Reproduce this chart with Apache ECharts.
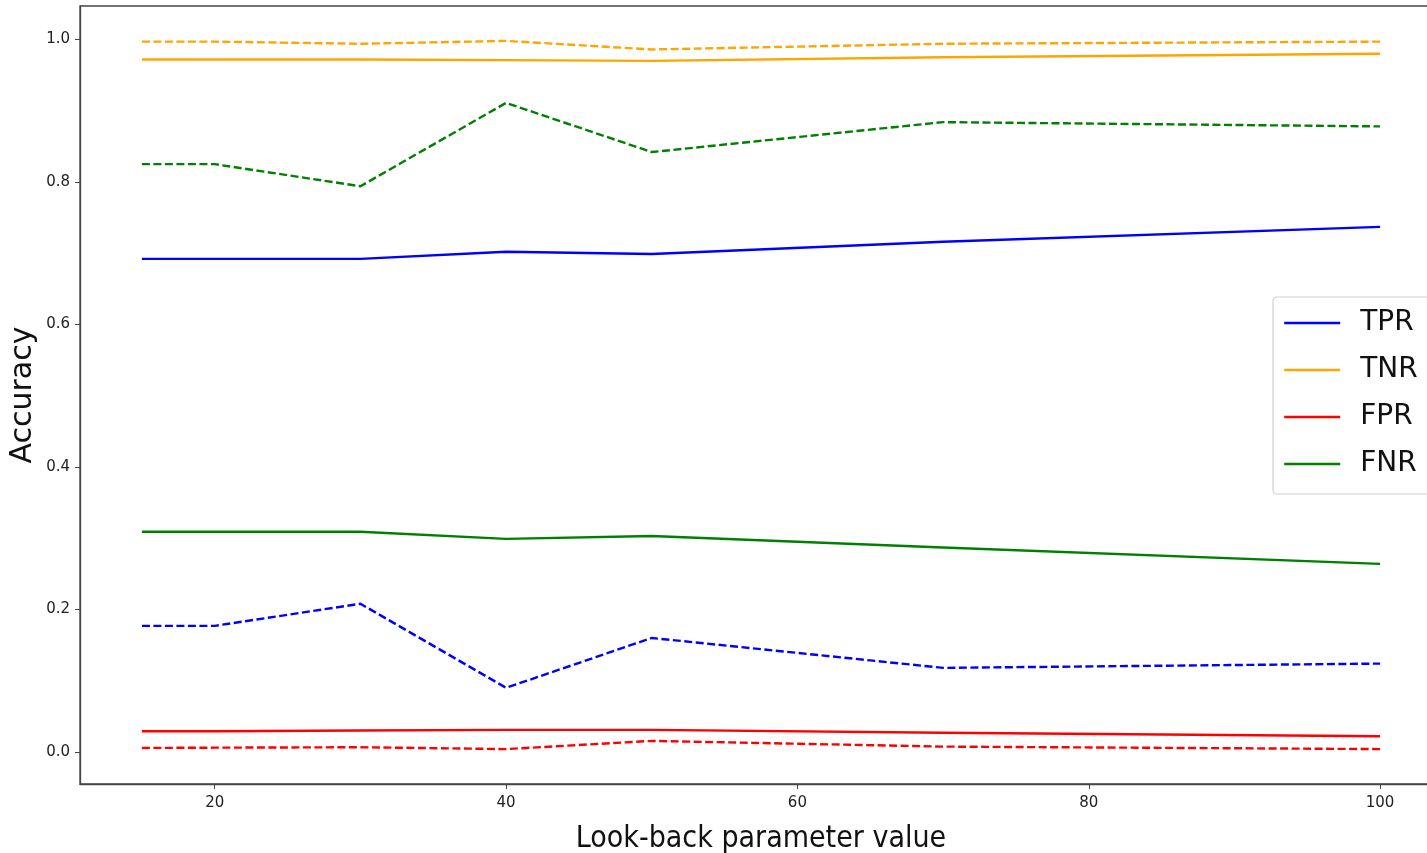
<!DOCTYPE html>
<html>
<head>
<meta charset="utf-8">
<script src="https://cdn.jsdelivr.net/npm/echarts@6/dist/echarts.min.js"></script>
<style>
  html, body { margin: 0; padding: 0; background: #fff; }
  #chart { width: 1427px; height: 853px; }
</style>
</head>
<body>
<div id="chart"></div>
<script>
// Look-back parameter values on the x axis
const lookBack = [15, 20, 30, 40, 50, 70, 100];

// Solid lines
const tprSolid = [0.692, 0.692, 0.692, 0.702, 0.699, 0.716, 0.737];
const tnrSolid = [0.972, 0.972, 0.972, 0.971, 0.970, 0.975, 0.980];
const fprSolid = [0.029, 0.029, 0.030, 0.031, 0.031, 0.027, 0.022];
const fnrSolid = [0.309, 0.309, 0.309, 0.299, 0.303, 0.287, 0.264];

// Dashed lines
const tprDashed = [0.177, 0.177, 0.208, 0.090, 0.160, 0.118, 0.124];
const tnrDashed = [0.997, 0.997, 0.994, 0.998, 0.986, 0.994, 0.997];
const fprDashed = [0.0056, 0.006, 0.0066, 0.004, 0.0155, 0.0075, 0.004];
const fnrDashed = [0.825, 0.825, 0.794, 0.911, 0.842, 0.884, 0.878];

const xTicks = [20, 40, 60, 80, 100];
const yTicks = [0, 0.2, 0.4, 0.6, 0.8, 1.0];

const colors = { TPR: '#0000ff', TNR: '#ffa500', FPR: '#ff0000', FNR: '#008000' };

function pairs(values) {
  return lookBack.map((x, i) => [x, values[i]]);
}

function lineSeries(name, color, values, dashed) {
  return {
    name: name,
    type: 'line',
    data: pairs(values),
    symbol: 'none',
    smooth: false,
    animation: false,
    color: color,
    lineStyle: {
      color: color,
      width: 2.4,
      type: dashed ? [8, 3.5] : 'solid'
    },
    z: dashed ? 2 : 3
  };
}

const chart = echarts.init(document.getElementById('chart'), null, { renderer: 'canvas' });

chart.setOption({
  backgroundColor: '#ffffff',
  animation: false,
  grid: {
    left: 80,
    top: 6,
    width: 1362,
    height: 778,
    outerBoundsMode: 'none',
    containLabel: false,
    show: true,
    borderColor: '#444',
    borderWidth: 1.3,
    backgroundColor: 'transparent'
  },
  legend: {
    data: ['TPR', 'TNR', 'FPR', 'FNR'],
    orient: 'vertical',
    left: 1273,
    top: 297,
    padding: [12, 15, 16, 10],
    itemWidth: 56,
    itemHeight: 14,
    itemGap: 19,
    backgroundColor: 'rgba(255,255,255,0.85)',
    borderColor: '#d0d0d0',
    borderWidth: 1.2,
    borderRadius: 4,
    textStyle: {
      fontFamily: 'DejaVu Sans',
      fontSize: 28,
      lineHeight: 28,
      color: '#111',
      padding: [0, 0, 0, 15]
    },
    itemStyle: { opacity: 0, borderWidth: 0 },
    lineStyle: { width: 2.4 }
  },
  xAxis: {
    type: 'value',
    min: 10.75,
    max: 104.25,
    name: 'Look-back parameter value',
    nameLocation: 'middle',
    nameGap: 40,
    nameTextStyle: {
      fontFamily: 'DejaVu Sans Condensed, DejaVu Sans',
      fontSize: 30,
      color: '#111'
    },
    axisLine: { show: true, onZero: false, lineStyle: { color: '#444', width: 1.3 } },
    axisTick: {
      show: true,
      length: 5,
      customValues: xTicks,
      lineStyle: { color: '#444', width: 1 }
    },
    axisLabel: {
      customValues: xTicks,
      margin: 12,
      fontFamily: 'DejaVu Sans',
      fontSize: 15,
      color: '#222'
    },
    splitLine: { show: false }
  },
  yAxis: {
    type: 'value',
    min: -0.045,
    max: 1.047,
    name: 'Accuracy',
    nameLocation: 'middle',
    nameGap: 42,
    nameMoveOverlap: false,
    nameRotate: 90,
    nameTextStyle: {
      fontFamily: 'DejaVu Sans',
      fontSize: 30,
      color: '#111'
    },
    axisLine: { show: true, onZero: false, lineStyle: { color: '#444', width: 1.3 } },
    axisTick: {
      show: true,
      length: 5,
      customValues: yTicks,
      lineStyle: { color: '#444', width: 1 }
    },
    axisLabel: {
      customValues: yTicks,
      margin: 10,
      fontFamily: 'DejaVu Sans',
      fontSize: 15,
      color: '#222',
      formatter: (v) => v.toFixed(1)
    },
    splitLine: { show: false }
  },
  series: [
    lineSeries('TPR', colors.TPR, tprSolid, false),
    lineSeries('TNR', colors.TNR, tnrSolid, false),
    lineSeries('FPR', colors.FPR, fprSolid, false),
    lineSeries('FNR', colors.FNR, fnrSolid, false),
    lineSeries('TPR (dashed)', colors.TPR, tprDashed, true),
    lineSeries('TNR (dashed)', colors.TNR, tnrDashed, true),
    lineSeries('FPR (dashed)', colors.FPR, fprDashed, true),
    lineSeries('FNR (dashed)', colors.FNR, fnrDashed, true)
  ]
});
</script>
</body>
</html>
